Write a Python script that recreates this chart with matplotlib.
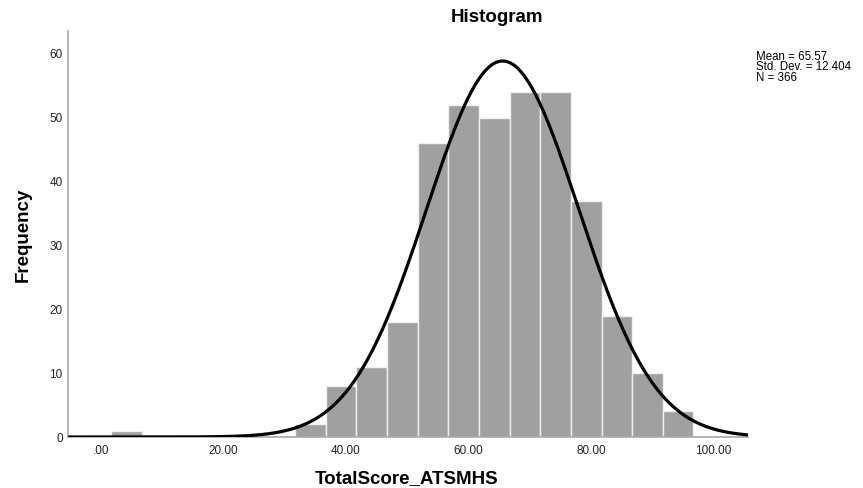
import numpy as np
import matplotlib
matplotlib.use("Agg")
import matplotlib.pyplot as plt

plt.rcParams['font.family'] = ['Liberation Sans', 'DejaVu Sans']

# histogram data
bin_start = 1.7
bin_width = 5.0
counts = [1, 0, 0, 0, 0, 0, 2, 8, 11, 18, 46, 52, 50, 54, 54, 37, 19, 10, 4]
mean = 65.57
sd = 12.404
n = 366
xticks = [0, 20, 40, 60, 80, 100]
xticklabels = ['.00', '20.00', '40.00', '60.00', '80.00', '100.00']
yticks = [0, 10, 20, 30, 40, 50, 60]

W, H = 863, 488
fig = plt.figure(figsize=(W / 100, H / 100), dpi=100)
ax = fig.add_axes([68.3 / W, 1 - 437 / H, (748 - 68.3) / W, (437 - 30.7) / H])

lefts = bin_start + bin_width * np.arange(len(counts))
ax.bar(lefts, counts, width=bin_width, align='edge', color='#a0a0a0',
       edgecolor='#f0f0f0', linewidth=1.0, zorder=2)

# normal curve scaled to counts
xx = np.linspace(-5.3, 105.6, 400)
yy = n * bin_width * np.exp(-0.5 * ((xx - mean) / sd) ** 2) / (sd * np.sqrt(2 * np.pi))
ax.plot(xx, yy, color='black', lw=2.3, zorder=3, solid_capstyle='butt')

ax.set_xlim(-5.3, 105.6)
ax.set_ylim(0, 63.6)
ax.set_xticks(xticks)
ax.set_xticklabels(xticklabels)
ax.set_yticks(yticks)
ax.tick_params(length=0, labelsize=8.5, colors='#222222')
ax.tick_params(axis='x', pad=6)
ax.tick_params(axis='y', pad=4)

for s in ['top', 'right']:
    ax.spines[s].set_visible(False)
for s in ['left', 'bottom']:
    ax.spines[s].set_color('#a8a8a8')
    ax.spines[s].set_linewidth(1.2)

fig.text(497 / W, 1 - 18 / H, 'Histogram', ha='center', va='center',
         fontsize=13.5, fontweight='bold')
fig.text(407 / W, 1 - 479 / H, 'TotalScore_ATSMHS', ha='center', va='center',
         fontsize=13.5, fontweight='bold')
fig.text(23 / W, 1 - 235 / H, 'Frequency', ha='center', va='center',
         rotation=90, fontsize=13.5, fontweight='bold')

stats = ['Mean = %.2f' % mean, 'Std. Dev. = %.3f' % sd, 'N = %d' % n]
for i, s in enumerate(stats):
    fig.text(756 / W, 1 - (57 + 10.5 * i) / H, s, ha='left', va='center', fontsize=8.3)

fig.savefig('out.png', dpi=100)
